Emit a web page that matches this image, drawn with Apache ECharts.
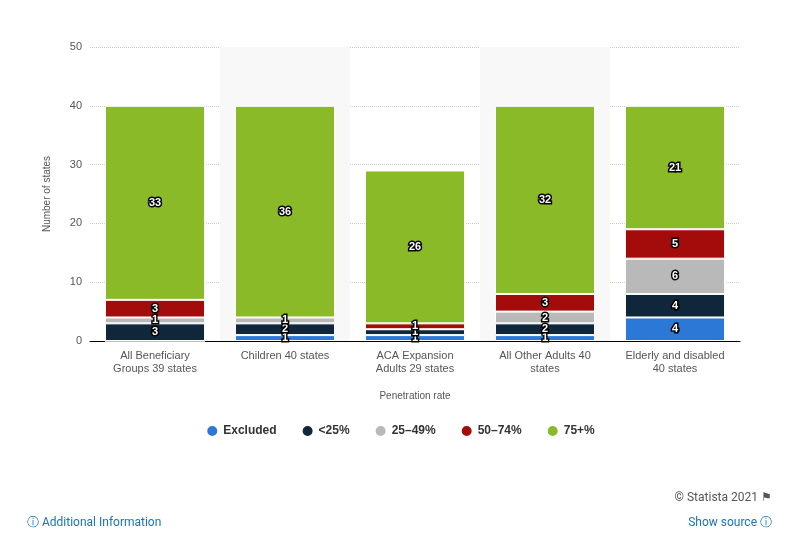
<!DOCTYPE html>
<html><head><meta charset="utf-8">
<script src="https://cdn.jsdelivr.net/npm/echarts@6/dist/echarts.min.js"></script>
<style>body{margin:0;background:#fff;font-family:Roboto,sans-serif}#c{width:800px;height:557px}
.t{position:absolute;font-size:12px}</style></head>
<body><div id="c"></div>
<div class="t" style="left:27px;top:514px;color:#1a73b8">&#9432; Additional Information</div>
<div class="t" style="right:28px;top:514px;color:#1a73b8">Show source &#9432;</div>
<div class="t" style="right:28px;top:490px;color:#555">© Statista 2021 &#9873;</div>
<script>
var categories = ['All Beneficiary\nGroups 39 states', 'Children 40 states', 'ACA Expansion\nAdults 29 states', 'All Other Adults 40\nstates', 'Elderly and disabled\n40 states'];
var excluded = [0, 1, 1, 1, 4];
var under25 = [3, 2, 1, 2, 4];
var r25to49 = [1, 1, 0, 2, 6];
var r50to74 = [3, 0, 1, 3, 5];
var r75plus = [33, 36, 26, 32, 21];

var chart = echarts.init(document.getElementById('c'));
function s(name, data, color) {
  return {
    name: name, type: 'bar', stack: 'a', data: data, barWidth: '77%',
    itemStyle: { color: color, borderColor: '#fff', borderWidth: 1 },
    label: {
      show: true, color: '#fff', fontWeight: 'bold', fontSize: 11,
      textBorderColor: '#000', textBorderWidth: 3,
      formatter: function (p) { return p.value ? p.value : ''; }
    }
  };
}
chart.setOption({
  animation: false,
  grid: { left: 90, right: 60, top: 47, bottom: 216 },
  legend: {
    bottom: 114, left: 'center', itemGap: 24, icon: 'circle', itemWidth: 12, itemHeight: 12,
    textStyle: { fontWeight: 'bold', color: '#333', fontSize: 12 }
  },
  xAxis: {
    type: 'category', data: categories,
    name: 'Penetration rate', nameLocation: 'middle', nameGap: 50,
    nameTextStyle: { color: '#555', fontSize: 10 },
    axisLine: { lineStyle: { color: '#000' } }, axisTick: { show: false },
    axisLabel: { color: '#555', fontSize: 11, lineHeight: 13, interval: 0 },
    splitArea: { show: true, areaStyle: { color: ['rgba(0,0,0,0)', '#f8f8f8'] } }
  },
  yAxis: {
    type: 'value', min: 0, max: 50, interval: 10,
    name: 'Number of states', nameLocation: 'middle', nameGap: 38,
    nameTextStyle: { color: '#555', fontSize: 10 },
    axisLabel: { color: '#555', fontSize: 11 },
    splitLine: { lineStyle: { color: '#ccc', type: 'dotted' } }
  },
  series: [
    s('Excluded', excluded, '#2b78d7'),
    s('<25%', under25, '#10263b'),
    s('25–49%', r25to49, '#b9b9b9'),
    s('50–74%', r50to74, '#a40c0c'),
    s('75+%', r75plus, '#8aba27')
  ]
});
</script></body></html>
